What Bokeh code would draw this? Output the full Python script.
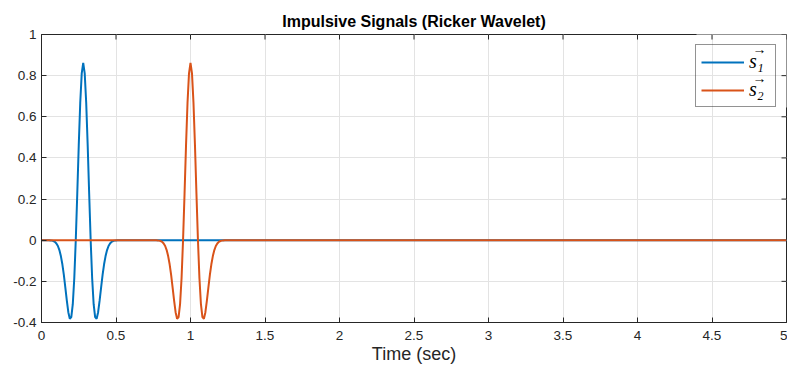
import numpy as np
from bokeh.plotting import figure
from bokeh.models import Range1d, FixedTicker, Legend, LegendItem
from bokeh.embed import file_html
from bokeh.resources import INLINE

# Ricker wavelet shape sampled around its centre (seconds, amplitude)
pulse_offsets = [-0.23, -0.22, -0.21, -0.20, -0.19, -0.18, -0.17, -0.16, -0.15, -0.14,
                 -0.13, -0.12, -0.11, -0.10, -0.09, -0.08, -0.07, -0.06, -0.05, -0.04,
                 -0.03, -0.02, -0.01, 0.00, 0.01, 0.02, 0.03, 0.04, 0.05, 0.06,
                 0.07, 0.08, 0.09, 0.10, 0.11, 0.12, 0.13, 0.14, 0.15, 0.16,
                 0.17, 0.18, 0.19, 0.20, 0.21, 0.22, 0.23]
pulse_amps = [0.000, -0.001, -0.002, -0.004, -0.008, -0.016, -0.028, -0.048, -0.077, -0.117,
              -0.169, -0.230, -0.294, -0.350, -0.382, -0.374, -0.311, -0.185, 0.000, 0.225,
              0.461, 0.668, 0.811, 0.862, 0.811, 0.668, 0.461, 0.225, 0.000, -0.185,
              -0.311, -0.374, -0.382, -0.350, -0.294, -0.230, -0.169, -0.117, -0.077, -0.048,
              -0.028, -0.016, -0.008, -0.004, -0.002, -0.001, 0.000]

# arrival time of each impulse (sec) and the record span
s1_center = 0.28
s2_center = 1.00
t_start, t_end = 0.0, 5.0

series_labels = ["s\u2081", "s\u2082"]
series_colors = ["#0072BD", "#D95319"]

x_ticks = [0, 0.5, 1, 1.5, 2, 2.5, 3, 3.5, 4, 4.5, 5]
x_tick_labels = ["0", "0.5", "1", "1.5", "2", "2.5", "3", "3.5", "4", "4.5", "5"]
y_ticks = [-0.4, -0.2, 0, 0.2, 0.4, 0.6, 0.8, 1]
y_tick_labels = ["-0.4", "-0.2", "0", "0.2", "0.4", "0.6", "0.8", "1"]

x_lo, x_hi = 0, 5
y_lo, y_hi = -0.4, 1


def trace(center):
    t = [t_start] + [center + o for o in pulse_offsets] + [t_end]
    v = [0.0] + list(pulse_amps) + [0.0]
    return t, v


FONT = "Liberation Sans"
INK = "#262626"

p = figure(width=787, height=371, output_backend="svg", toolbar_location=None,
           x_range=Range1d(x_lo, x_hi), y_range=Range1d(y_lo, y_hi),
           min_border_left=41, min_border_right=1, min_border_top=34, min_border_bottom=49,
           title="Impulsive Signals (Ricker Wavelet)")
p.background_fill_color = "white"
p.border_fill_color = "white"
p.outline_line_color = INK
p.outline_line_width = 1

p.title.align = "center"
p.title.text_font = FONT
p.title.text_font_size = "16px"
p.title.text_font_style = "bold"
p.title.text_color = "black"

xt = FixedTicker(ticks=x_ticks)
yt = FixedTicker(ticks=y_ticks)


def style_axis(ax, ticker, labels):
    ax.ticker = ticker
    ax.axis_line_color = INK
    ax.major_tick_line_color = INK
    ax.major_tick_in = 5
    ax.major_tick_out = 0
    ax.minor_tick_line_color = None
    ax.major_label_text_font = FONT
    ax.major_label_text_color = INK
    ax.major_label_text_font_size = "13.5px"
    ax.major_label_overrides = {t: l for t, l in zip(ticker.ticks, labels)}


style_axis(p.xaxis[0], xt, x_tick_labels)
p.xaxis[0].major_label_standoff = 8
p.xaxis[0].axis_label = "Time (sec)"
p.xaxis[0].axis_label_text_font = FONT
p.xaxis[0].axis_label_text_font_size = "18px"
p.xaxis[0].axis_label_text_font_style = "normal"
p.xaxis[0].axis_label_text_color = INK
p.xaxis[0].axis_label_standoff = 1

style_axis(p.yaxis[0], yt, y_tick_labels)
p.yaxis[0].major_label_standoff = 5

p.xgrid.ticker = xt
p.ygrid.ticker = yt
p.grid.grid_line_color = "#e3e3e3"
p.grid.grid_line_width = 1

# white patch under the legend so the grid does not run through it
p.rect(x=[x_hi], y=[y_hi], width=180, height=146, width_units="screen",
       height_units="screen", fill_color="white", line_color=None, level="underlay")

# inward tick marks along the top and right edges of the box
p.ray(x=x_ticks, y=[y_hi] * len(x_ticks), length=5, length_units="screen",
      angle=-np.pi / 2, line_color=INK, line_width=1)
p.ray(x=[x_hi] * len(y_ticks), y=y_ticks, length=5, length_units="screen",
      angle=np.pi, line_color=INK, line_width=1)

t1, v1 = trace(s1_center)
t2, v2 = trace(s2_center)
r1 = p.line(t1, v1, line_color=series_colors[0], line_width=2)
r2 = p.line(t2, v2, line_color=series_colors[1], line_width=2)

legend = Legend(items=[LegendItem(label=series_labels[0], renderers=[r1]),
                       LegendItem(label=series_labels[1], renderers=[r2])],
                location="top_right")
legend.margin = 10
legend.padding = 5
legend.spacing = 5
legend.glyph_width = 43
legend.glyph_height = 22
legend.label_height = 22
legend.label_width = 21
legend.label_standoff = 5
legend.label_text_font = "Liberation Serif"
legend.label_text_font_style = "italic"
legend.label_text_font_size = "20px"
legend.label_text_color = "black"
legend.border_line_color = INK
legend.border_line_width = 1
legend.background_fill_alpha = 0
p.add_layout(legend)

# vector arrows over the legend symbols, pinned to the box's top-right corner
p.text(x=[x_hi, x_hi], y=[y_hi, y_hi], text=["\u2192", "\u2192"],
       x_offset=[-27, -27], y_offset=[15, 44],
       text_font="DejaVu Sans", text_font_size="14px", text_color="black",
       text_align="center", text_baseline="middle", level="overlay")

open("out.html", "w").write(file_html(p, INLINE))
